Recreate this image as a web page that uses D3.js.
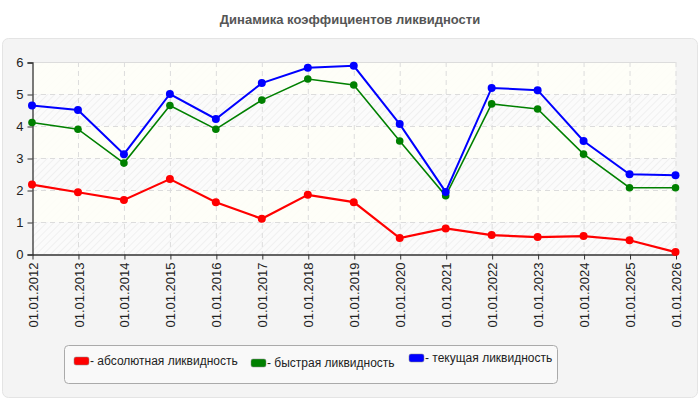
<!DOCTYPE html>
<html>
<head>
  <meta charset="UTF-8">
  <title>Динамика коэффициентов ликвидности</title>
  <style>
    body { margin: 0; background: #fff; font-family: "Liberation Sans", Arial, sans-serif; }
  </style>
</head>
<body>
  <div id="chart"></div>
  <script src="https://cdn.jsdelivr.net/npm/d3@7"></script>
  <script>
    // dates on the x axis
    var dates = ["01.01.2012", "01.01.2013", "01.01.2014", "01.01.2015", "01.01.2016",
      "01.01.2017", "01.01.2018", "01.01.2019", "01.01.2020", "01.01.2021",
      "01.01.2022", "01.01.2023", "01.01.2024", "01.01.2025", "01.01.2026"];

    var absolute = [2.17, 1.93, 1.69, 2.34, 1.62, 1.10, 1.85, 1.62, 0.50, 0.80, 0.59, 0.53, 0.56, 0.43, 0.06];
    var quick = [4.11, 3.90, 2.84, 4.64, 3.90, 4.81, 5.47, 5.28, 3.53, 1.82, 4.69, 4.53, 3.12, 2.07, 2.07];
    var current = [4.64, 4.50, 3.12, 5.00, 4.22, 5.34, 5.82, 5.88, 4.06, 1.94, 5.19, 5.12, 3.53, 2.49, 2.46];

    var yTicks = [0, 1, 2, 3, 4, 5, 6];

    var series = [
      { name: "абсолютная ликвидность", values: absolute, color: "#ff0000", width: 2.2, r: 4 },
      { name: "быстрая ликвидность", values: quick, color: "#008000", width: 1.6, r: 3.8 },
      { name: "текущая ликвидность", values: current, color: "#0000ff", width: 2, r: 4 }
    ];

    var W = 700, H = 400;
    var svg = d3.select('#chart').append('svg')
      .attr('width', W)
      .attr('height', H);

    var defs = svg.append('defs');
    var pat = defs.append('pattern')
      .attr('id', 'hatch')
      .attr('patternUnits', 'userSpaceOnUse')
      .attr('width', 5)
      .attr('height', 5)
      .attr('patternTransform', 'rotate(45)');
    pat.append('rect').attr('width', 5).attr('height', 5).attr('fill', '#fbfbfb');
    pat.append('line').attr('x1', 0).attr('y1', 0).attr('x2', 0).attr('y2', 5)
      .attr('stroke', '#ededed').attr('stroke-width', 1.5);

    // outer panel
    svg.append('rect')
      .attr('x', 2.5).attr('y', 38.5)
      .attr('width', 695).attr('height', 359)
      .attr('rx', 6)
      .attr('fill', '#f4f4f4')
      .attr('stroke', '#e4e4e4');

    svg.append('text')
      .attr('x', W / 2).attr('y', 24)
      .attr('text-anchor', 'middle')
      .attr('font-size', 13)
      .attr('font-weight', 'bold')
      .attr('fill', '#555')
      .text('Динамика коэффициентов ликвидности');

    var x = d3.scalePoint().domain(dates).range([32, 675.5]);
    var y = d3.scaleLinear().domain([0, 6]).range([254, 62]);

    var plot = svg.append('g');

    plot.append('rect')
      .attr('x', 32).attr('y', y(6))
      .attr('width', 675.5 - 32).attr('height', y(0) - y(6))
      .attr('fill', 'url(#hatch)');

    // cream bands
    plot.selectAll('.band')
      .data([5, 3, 1])
      .enter().append('rect')
      .attr('x', 32)
      .attr('y', d => y(d + 1))
      .attr('width', 675.5 - 32)
      .attr('height', d => y(d) - y(d + 1))
      .attr('fill', '#fefef7')
      .attr('opacity', 0.9);

    // grid
    plot.selectAll('.hgrid')
      .data(yTicks.slice(1))
      .enter().append('line')
      .attr('x1', 32).attr('x2', 675.5)
      .attr('y1', d => y(d) + 0.5).attr('y2', d => y(d) + 0.5)
      .attr('stroke', '#dcdcdc')
      .attr('stroke-dasharray', '5,4');

    plot.selectAll('.vgrid')
      .data(dates.slice(1))
      .enter().append('line')
      .attr('x1', d => x(d) + 0.5).attr('x2', d => x(d) + 0.5)
      .attr('y1', y(6)).attr('y2', y(0))
      .attr('stroke', '#dcdcdc')
      .attr('stroke-dasharray', '5,4');

    // top border line of the plot
    plot.append('line')
      .attr('x1', 32).attr('x2', 675.5)
      .attr('y1', y(6) + 0.5).attr('y2', y(6) + 0.5)
      .attr('stroke', '#dcdcdc');

    // axes
    var yAxis = svg.append('g')
      .attr('transform', 'translate(32.5,0.5)')
      .call(d3.axisLeft(y).tickValues(yTicks).tickSize(5).tickPadding(4).tickFormat(d3.format('d')));
    var xAxis = svg.append('g')
      .attr('transform', 'translate(0.5,' + (y(0) + 0.5) + ')')
      .call(d3.axisBottom(x).tickSize(5).tickSizeOuter(0));

    [yAxis, xAxis].forEach(function (g) {
      g.select('.domain').attr('stroke', '#333').attr('stroke-width', 1.3);
      g.selectAll('.tick line').attr('stroke', '#333');
      g.selectAll('text')
        .attr('fill', '#222')
        .attr('font-size', 13)
        .attr('font-family', '"Liberation Sans", Arial, sans-serif');
    });

    xAxis.selectAll('text')
      .attr('transform', 'rotate(-90)')
      .attr('text-anchor', 'end')
      .attr('x', -8)
      .attr('y', 0)
      .attr('dy', '0.35em');

    // lines and markers
    var line = d3.line()
      .x((d, i) => x(dates[i]))
      .y(d => y(d));

    series.forEach(function (s) {
      var g = svg.append('g');
      g.append('path')
        .attr('d', line(s.values))
        .attr('fill', 'none')
        .attr('stroke', s.color)
        .attr('stroke-width', s.width);
      g.selectAll('circle')
        .data(s.values)
        .enter().append('circle')
        .attr('cx', (d, i) => x(dates[i]))
        .attr('cy', d => y(d))
        .attr('r', s.r)
        .attr('fill', s.color);
    });

    // legend
    var legend = svg.append('g');
    legend.append('rect')
      .attr('x', 64.5).attr('y', 345.5)
      .attr('width', 493).attr('height', 38)
      .attr('rx', 4)
      .attr('fill', '#f9f9f9')
      .attr('stroke', '#aaa');

    var legendPos = [{ x: 74, y: 361 }, { x: 251, y: 363 }, { x: 409, y: 358 }];

    series.forEach(function (s, i) {
      var p = legendPos[i];
      legend.append('rect')
        .attr('x', p.x).attr('y', p.y - 4)
        .attr('width', 15).attr('height', 8)
        .attr('rx', 2)
        .attr('fill', s.color)
        .attr('stroke', '#888')
        .attr('stroke-width', 0.5);
      legend.append('text')
        .attr('x', p.x + 16).attr('y', p.y + 4)
        .attr('font-size', 12)
        .attr('fill', '#222')
        .text('- ' + s.name);
    });
  </script>
</body>
</html>
